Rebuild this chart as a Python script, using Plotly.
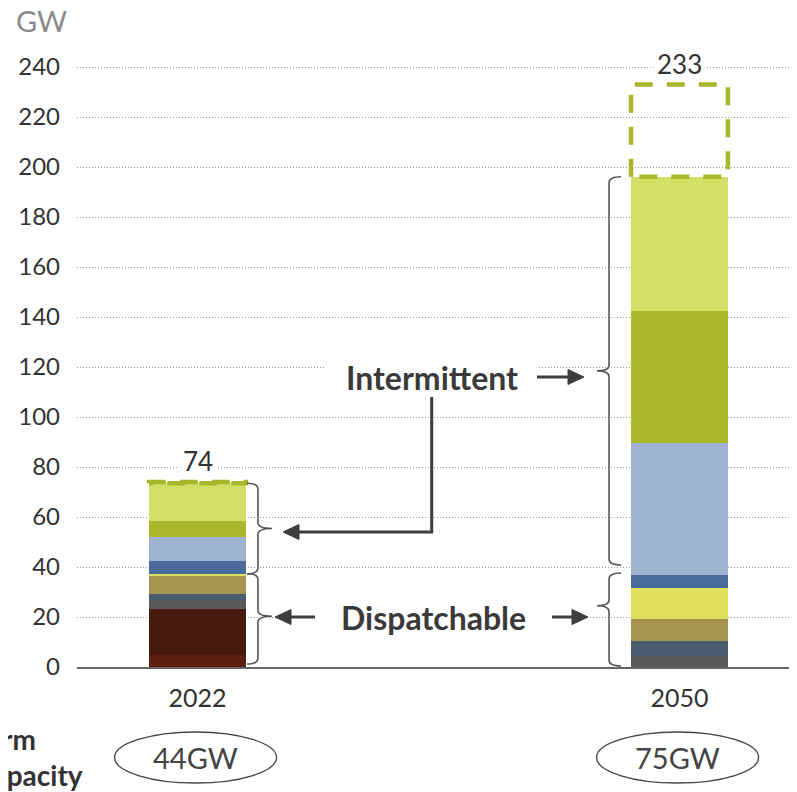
import plotly.graph_objects as go

# ---------------- data ----------------
years = ["2022", "2050"]
x_pos = [0, 1]
series_names = ["Lignite", "Hard coal", "Gas", "Other thermal", "Biomass", "Hydrogen",
                "Hydro", "Offshore wind", "Onshore wind", "Solar"]
series_colors = ["#5c1f10", "#461a0f", "#595959", "#4a5c6d", "#a5944f", "#dfe05e",
                 "#4a6a9a", "#9fb2cf", "#a8b82a", "#d1df66"]
values_2022 = [4.8, 18.4, 3.7, 2.3, 7.2, 0.9, 5.1, 9.6, 6.4, 15.1]
values_2050 = [0.0, 0.0, 4.5, 5.9, 8.8, 12.4, 5.2, 52.8, 52.8, 53.7]
totals = [74, 233]
firm_capacity = ["44GW", "75GW"]
dispatch_count = [6, 7]          # number of bottom series covered by the "Dispatchable" brace
y_ticks = list(range(0, 241, 20))

# ---------------- layout geometry (page pixels) ----------------
OFF = 8                      # page offset of the figure inside the browser page
L, T, W, H = 77, 42, 720, 625
XR = [-0.25, 1.2438]
YR = [0, 250]
PXX = W / (XR[1] - XR[0])
PXY = H / (YR[1] - YR[0])
BAR_W = 0.201
FIG_W, FIG_H = 797, 792


def X(px):
    return XR[0] + (px - L) / PXX


def Y(py):
    return YR[0] + (T + H - py) / PXY


def PY(v):
    return T + H - (v - YR[0]) * PXY


def PX(v):
    return L + (v - XR[0]) * PXX


fig = go.Figure()
vals = [values_2022, values_2050]
for i, name in enumerate(series_names):
    fig.add_trace(go.Bar(
        x=x_pos, y=[vals[0][i], vals[1][i]], name=name, width=BAR_W,
        marker=dict(color=series_colors[i], line=dict(width=0)),
        showlegend=False, hoverinfo="skip"))

stack_tops = [sum(v) for v in vals]

# dashed boxes from stack top to total
for j, xp in enumerate(x_pos):
    x0, x1 = xp - BAR_W / 2, xp + BAR_W / 2
    fig.add_trace(go.Scatter(
        x=[x0, x0, x1, x1, x0], y=[stack_tops[j], totals[j], totals[j], stack_tops[j], stack_tops[j]],
        mode="lines", line=dict(color="#a8b82a", width=4.5, dash="18px,14px"),
        showlegend=False, hoverinfo="skip"))

shapes = []
annotations = []
FONT = "Lato, 'Open Sans', sans-serif"


def gap(px0, px1, py, h=8):
    shapes.append(dict(type="rect", layer="between", xref="x", yref="y",
                       x0=X(px0), x1=X(px1), y0=Y(py + h / 2), y1=Y(py - h / 2),
                       fillcolor="white", line=dict(width=0)))


# total labels
for j, xp in enumerate(x_pos):
    py = PY(totals[j]) - 21
    pxc = PX(xp)
    gap(pxc - 20 - 6 * j, pxc + 20 + 6 * j, PY(min(y for y in y_ticks if y > totals[j])))
    annotations.append(dict(x=xp, y=Y(py), xref="x", yref="y", text=str(totals[j]),
                            showarrow=False, font=dict(family=FONT, size=26, color="#333333"),
                            xanchor="center", yanchor="middle"))


def brace(xv, yt, yb, yc, d, hook, cusp, r=6):
    xh = xv - d * hook
    xc = xv + d * cusp
    pts = (f"M {X(xh)},{Y(yt)} Q {X(xv)},{Y(yt)} {X(xv)},{Y(yt + r)} "
           f"L {X(xv)},{Y(yc - r)} Q {X(xv)},{Y(yc)} {X(xc)},{Y(yc)} "
           f"Q {X(xv)},{Y(yc)} {X(xv)},{Y(yc + r)} "
           f"L {X(xv)},{Y(yb - r)} Q {X(xv)},{Y(yb)} {X(xh)},{Y(yb)}")
    shapes.append(dict(type="path", path=pts, xref="x", yref="y",
                       line=dict(color="#555555", width=1.6), layer="above"))


# braces
split = [sum(vals[j][:dispatch_count[j]]) for j in range(2)]
# 2022: right of bar, cusp pointing right
xv0 = PX(x_pos[0] + BAR_W / 2) + 12
brace(xv0, PY(stack_tops[0]), PY(split[0]), (PY(stack_tops[0]) + PY(split[0])) / 2, 1, 11, 14)
brace(xv0, PY(split[0]), PY(0) - 3, PY(20.3), 1, 11, 14)
# 2050: left of bar, cusp pointing left
xv1 = PX(x_pos[1] - BAR_W / 2) - 22
top1 = PY(stack_tops[1])
bot1 = PY(split[1]) - 10
brace(xv1, top1, bot1, (top1 + bot1) / 2, -1, 12, 12)
brace(xv1, PY(split[1]) - 2, PY(0) - 1, PY(24.5), -1, 12, 12)

# arrows
AC = "#3d3d3d"


def head(tx, ty, dx, dy, ln=16, hw=7.5):
    bx, by = tx - dx * ln, ty - dy * ln
    nx, ny = -dy, dx
    p = (f"M {X(tx)},{Y(ty)} L {X(bx + nx * hw)},{Y(by + ny * hw)} "
         f"L {X(bx - nx * hw)},{Y(by - ny * hw)} Z")
    shapes.append(dict(type="path", path=p, xref="x", yref="y", fillcolor=AC,
                       line=dict(color=AC, width=1), layer="above"))


def seg(pts):
    p = "M " + " L ".join(f"{X(a)},{Y(b)}" for a, b in pts)
    shapes.append(dict(type="path", path=p, xref="x", yref="y",
                       line=dict(color=AC, width=3), layer="above"))


# Intermittent -> 2050 brace
seg([(537, 377), (570, 377)]); head(584, 377, 1, 0)
# Intermittent -> 2022 brace (elbow)
seg([(431.7, 397), (431.7, 532), (297, 532)]); head(283, 532, -1, 0)
# Dispatchable arrows
seg([(315, 617), (289, 617)]); head(275, 617, -1, 0)
seg([(552, 617), (574, 617)]); head(588, 617, 1, 0)

# gridline gaps behind labels
gap(324, 537, PY(120))
gap(315, 552, PY(20))

annotations.append(dict(x=X(431.5), y=Y(377), xref="x", yref="y", text="<b>Intermittent</b>",
                        showarrow=False, font=dict(family=FONT, size=32, color="#3a3a3a")))
annotations.append(dict(x=X(433.5), y=Y(617), xref="x", yref="y", text="<b>Dispatchable</b>",
                        showarrow=False, font=dict(family=FONT, size=32, color="#3a3a3a")))

# GW unit label
annotations.append(dict(x=(14 - L) / W, y=(T + H - 20) / H, xref="paper", yref="paper",
                        text="GW", showarrow=False, xanchor="left", yanchor="middle",
                        font=dict(family=FONT, size=29, color="#8a8a8a")))

# Firm capacity ellipses
ey0 = (T + H - 783) / H
ey1 = (T + H - 732) / H
half = 81 / PXX
for j, xp in enumerate(x_pos):
    shapes.append(dict(type="circle", xref="x", yref="paper", x0=xp - half - 0.004, x1=xp + half - 0.004,
                       y0=ey0, y1=ey1, line=dict(color="#444444", width=1.3)))
    annotations.append(dict(x=xp - 0.004, y=(ey0 + ey1) / 2, xref="x", yref="paper",
                            text=firm_capacity[j], showarrow=False,
                            font=dict(family=FONT, size=29, color="#444444"),
                            xanchor="center", yanchor="middle"))

annotations.append(dict(x=(-23 - L) / W, y=(T + H - 757) / H, xref="paper", yref="paper",
                        text="<b>Firm<br>capacity</b>", showarrow=False, xanchor="left",
                        yanchor="middle", align="left",
                        font=dict(family=FONT, size=28, color="#333333")))

ml, mt = L - OFF, T - OFF
fig.update_layout(
    width=FIG_W, height=FIG_H,
    margin=dict(l=ml, r=FIG_W - ml - W, t=mt, b=FIG_H - mt - H, pad=0),
    plot_bgcolor="white", paper_bgcolor="white",
    barmode="stack", bargap=0,
    shapes=shapes, annotations=annotations,
    font=dict(family=FONT, color="#333333"),
    xaxis=dict(range=XR, tickvals=x_pos, ticktext=years, showgrid=False, zeroline=False,
               showline=True, linecolor="#666666", linewidth=2, ticks="",
               tickfont=dict(family=FONT, size=25, color="#333333"), ticklabelstandoff=8,
               fixedrange=True),
    yaxis=dict(range=YR, tickvals=y_ticks, showgrid=True, gridcolor="#999999", gridwidth=1,
               griddash="1px,2px", zeroline=False, showline=False, ticks="",
               tickfont=dict(family=FONT, size=24, color="#333333"), ticklabelstandoff=16,
               fixedrange=True),
)

fig.write_html("out.html")
